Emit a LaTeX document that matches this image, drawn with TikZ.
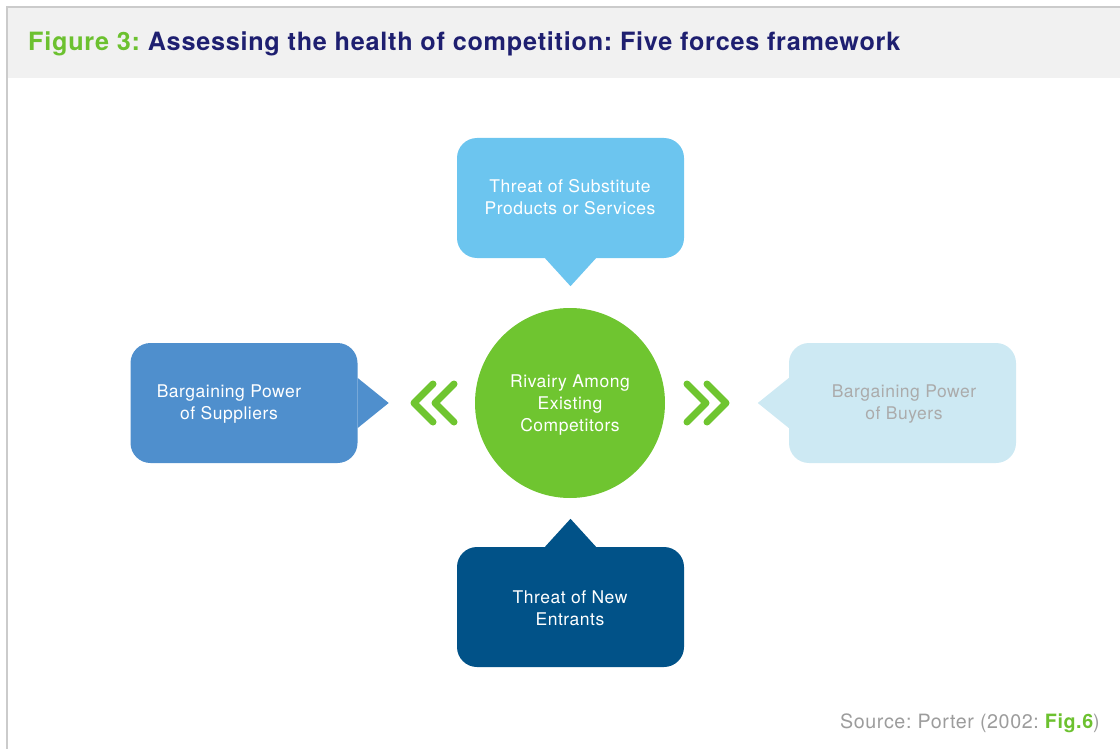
\documentclass[tikz,border=0pt]{standalone}
\usepackage{fontspec}
\setmainfont{TeX Gyre Heros}[LetterSpace=3]
\definecolor{headgrey}{HTML}{F1F1F1}
\definecolor{framegrey}{HTML}{CBCBCB}
\definecolor{figgreen}{HTML}{6CC12F}
\definecolor{titlenavy}{HTML}{1E1F70}
\definecolor{substblue}{HTML}{6CC5EF}
\definecolor{supplblue}{HTML}{4F8FCD}
\definecolor{buyerblue}{HTML}{CDE9F3}
\definecolor{entrantblue}{HTML}{015288}
\definecolor{rivalgreen}{HTML}{6FC530}
\definecolor{sourcegrey}{HTML}{9C9C9C}
\frenchspacing
\begin{document}
\begin{tikzpicture}[x=1pt,y=-1pt,
  force/.style={rectangle,rounded corners=20pt,minimum width=227pt,minimum height=120pt,inner sep=0pt},
  forcetext/.style={align=center,text=white,font=\fontsize{17.5}{22}\selectfont},
  chevron/.style={rivalgreen,line width=7pt,line cap=round,line join=round}]
  \useasboundingbox (0,0) rectangle (1120,749);
  % frame and header
  \fill[headgrey] (8,8) rectangle (1120,78);
  \draw[framegrey,line width=2pt] (7,749) -- (7,7) -- (1120,7);
  \node[anchor=base west,inner sep=0pt,text=titlenavy,font=\bfseries\fontsize{25.2}{28}\selectfont] (title) at (28,51)
  {\textcolor{figgreen}{Figure 3:} Assessing the health of competition: Five forces framework};
  % the five forces
  \node[circle,fill=rivalgreen,minimum size=190pt,inner sep=0pt] (rivalry) at (570,403) {};
  \node[forcetext] (rivalrytext) at (570,405) {Rivairy Among\\Existing\\Competitors};
  \node[force,fill=substblue] (substitutes) at (570.5,198) {};
  \node[forcetext] (substitutestext) at (570,197.5) {Threat of Substitute\\Products or Services};
  \fill[substblue] ([xshift=-25.5pt]substitutes.south) -- ++(25.5,28) -- ([xshift=25.5pt]substitutes.south) -- cycle;
  \node[force,fill=entrantblue] (entrants) at (570.5,607) {};
  \node[forcetext] (entrantstext) at (570,608.5) {Threat of New\\Entrants};
  \fill[entrantblue] ([xshift=-25.5pt]entrants.north) -- ++(25.5,-28) -- ([xshift=25.5pt]entrants.north) -- cycle;
  \node[force,fill=supplblue] (suppliers) at (244,403) {};
  \node[forcetext] (supplierstext) at (229,404.5) {Bargaining Power\\of Suppliers};
  \fill[supplblue] ([yshift=25pt]suppliers.east) -- ++(31,25) -- ([yshift=-25pt]suppliers.east) -- cycle;
  \node[force,fill=buyerblue] (buyers) at (902.5,403) {};
  \node[forcetext,text=sourcegrey!85] (buyerstext) at (904,404.5) {Bargaining Power\\of Buyers};
  \fill[buyerblue] ([yshift=25pt]buyers.west) -- ++(-31,25) -- ([yshift=-25pt]buyers.west) -- cycle;
  % chevrons
  \draw[chevron] (433,384) -- (414,403) -- (433,422);
  \draw[chevron] (454,384) -- (435,403) -- (454,422);
  \draw[chevron] (687,384) -- (706,403) -- (687,422);
  \draw[chevron] (707,384) -- (726,403) -- (707,422);
  % source
  \node[anchor=base east,inner sep=0pt,text=sourcegrey,font=\fontsize{19.7}{22}\selectfont] (source) at (1100,728)
  {Source: Porter (2002: \textcolor{figgreen}{\bfseries Fig.6})};
\end{tikzpicture}
\end{document}
